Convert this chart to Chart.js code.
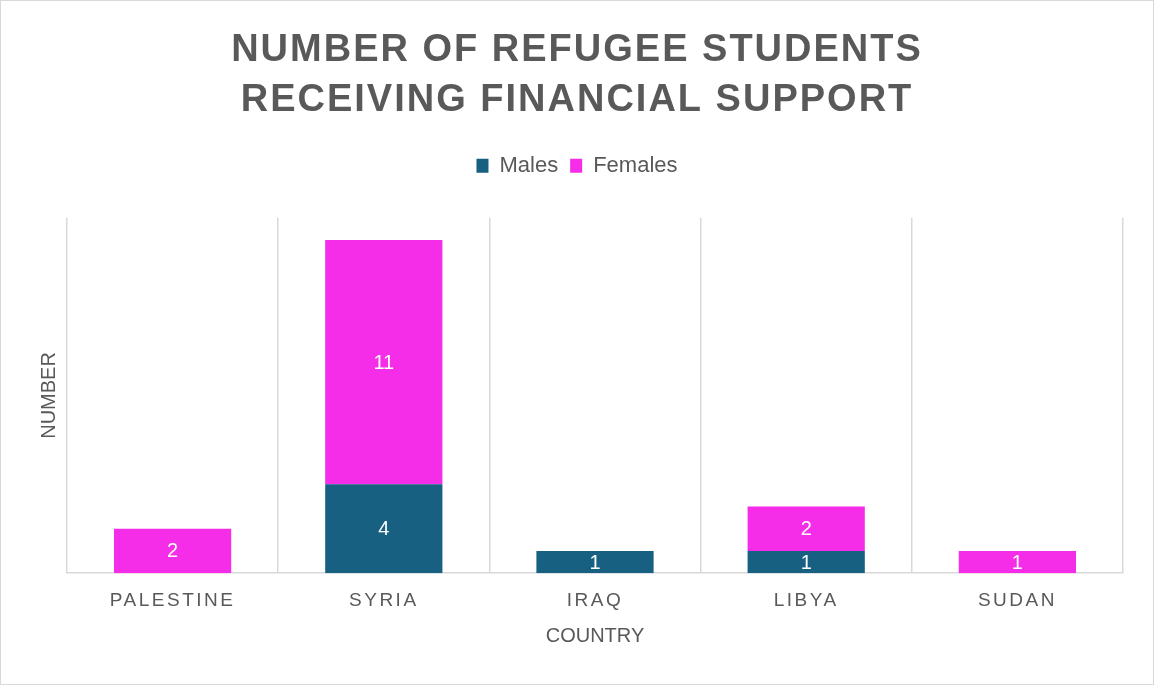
<!DOCTYPE html>
<html>
<head>
<meta charset="utf-8">
<script src="https://cdn.jsdelivr.net/npm/chart.js@4.4.1/dist/chart.umd.min.js"></script>
<style>
  html, body { margin: 0; padding: 0; background: #ffffff; }
  #wrap { position: absolute; left: 0; top: 0; width: 1152px; height: 683px; border: 1px solid #d9d9d9; background: #fff; }
  canvas { display: block; }
</style>
</head>
<body>
<div id="wrap"><canvas id="c" width="1152" height="683"></canvas></div>
<script>
const categories = ["PALESTINE", "SYRIA", "IRAQ", "LIBYA", "SUDAN"];
const males = [0, 4, 1, 1, 0];
const females = [2, 11, 0, 2, 1];
const titleLines = ["NUMBER OF REFUGEE STUDENTS", "RECEIVING FINANCIAL SUPPORT"];
const yMax = 16;

function withSpacing(obj, method, spacing) {
  if (!obj || obj['__sp_' + method]) return;
  const orig = obj[method];
  obj[method] = function (...args) {
    const c = this.ctx;
    const prev = c.letterSpacing;
    c.letterSpacing = spacing;
    const r = orig.apply(this, args);
    c.letterSpacing = prev;
    return r;
  };
  obj['__sp_' + method] = true;
}

const spacingPlugin = {
  id: 'spacing',
  afterLayout(chart) {
    withSpacing(chart.titleBlock, 'draw', '2px');
    withSpacing(chart.scales.x, 'drawLabels', '2.5px');
  }
};

const legendGap = {
  id: 'legendGap',
  beforeInit(chart) {
    const fit = chart.legend.fit;
    chart.legend.fit = function () {
      fit.call(this);
      this.height += 31;
    };
  }
};

const valueLabels = {
  id: 'valueLabels',
  afterDatasetsDraw(chart) {
    const ctx = chart.ctx;
    ctx.save();
    ctx.fillStyle = '#ffffff';
    ctx.font = '20px "Liberation Sans", Arial, sans-serif';
    ctx.textAlign = 'center';
    ctx.textBaseline = 'middle';
    chart.data.datasets.forEach((ds, di) => {
      const meta = chart.getDatasetMeta(di);
      meta.data.forEach((el, i) => {
        const v = ds.data[i];
        if (!v) return;
        const cy = (el.y + el.base) / 2;
        ctx.fillText(String(v), el.x, cy + 1);
      });
    });
    ctx.restore();
  }
};

new Chart(document.getElementById('c'), {
  type: 'bar',
  data: {
    labels: categories,
    datasets: [
      { label: 'Males', data: males, backgroundColor: '#176082', barPercentage: 0.555, categoryPercentage: 1.0 },
      { label: 'Females', data: females, backgroundColor: '#f52ce8', barPercentage: 0.555, categoryPercentage: 1.0 }
    ]
  },
  options: {
    responsive: false,
    animation: false,
    layout: { padding: { left: 30, right: 30, top: 0, bottom: 37 } },
    plugins: {
      title: {
        display: true,
        text: titleLines,
        color: '#595959',
        font: { family: '"Liberation Sans", Arial, sans-serif', size: 38, weight: 'bold', lineHeight: 1.3 },
        padding: { top: 25, bottom: 18 }
      },
      legend: {
        display: true,
        position: 'top',
        labels: {
          color: '#595959',
          boxWidth: 12,
          boxHeight: 14,
          padding: 12,
          font: { family: '"Liberation Sans", Arial, sans-serif', size: 22 }
        }
      },
      tooltip: { enabled: false }
    },
    scales: {
      x: {
        stacked: true,
        grid: { display: true, color: '#d9d9d9', lineWidth: 1.5, drawTicks: false, offset: true },
        border: { display: true, color: '#d9d9d9', width: 1.5 },
        ticks: {
          color: '#595959',
          padding: 17,
          font: { family: '"Liberation Sans", Arial, sans-serif', size: 19, lineHeight: 1.15 }
        },
        title: {
          display: true,
          text: 'COUNTRY',
          color: '#595959',
          padding: { top: 0, bottom: 4 },
          font: { family: '"Liberation Sans", Arial, sans-serif', size: 20, lineHeight: 0.7 }
        }
      },
      y: {
        stacked: true,
        min: 0,
        max: yMax,
        grid: { display: false },
        border: { display: false },
        ticks: { display: false },
        title: {
          display: true,
          text: 'NUMBER',
          color: '#595959',
          padding: { top: 8, bottom: 0 },
          font: { family: '"Liberation Sans", Arial, sans-serif', size: 20, lineHeight: 1.0 }
        }
      }
    }
  },
  plugins: [spacingPlugin, legendGap, valueLabels]
});
</script>
</body>
</html>
